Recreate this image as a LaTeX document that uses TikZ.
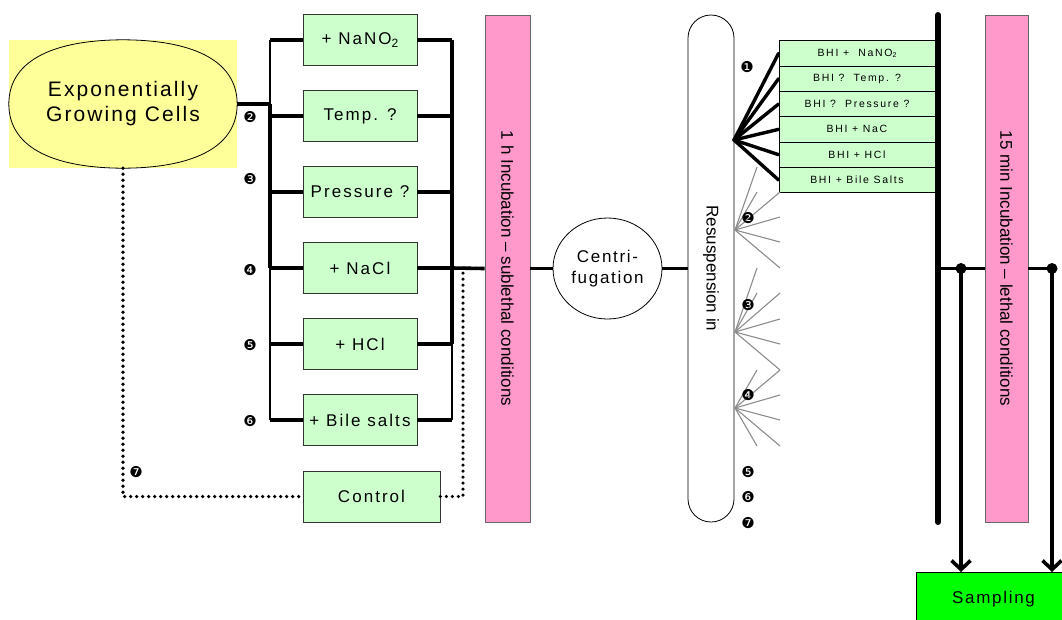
\documentclass[tikz,border=0pt]{standalone}
\usepackage{fontspec}
\setmainfont{Liberation Sans}
\newfontfamily\dingfont{DejaVu Sans}
\newfontfamily\spacedA[LetterSpace=10]{Liberation Sans}
\newfontfamily\spacedB[LetterSpace=12]{Liberation Sans}
\newfontfamily\spacedC[LetterSpace=16]{Liberation Sans}
\usetikzlibrary{shapes.geometric,arrows.meta}
\definecolor{yelbg}{HTML}{FFFF99}
\definecolor{grnL}{HTML}{CCFFCC}
\definecolor{pinkL}{HTML}{FF99CC}
\definecolor{sampG}{HTML}{00FF00}
\definecolor{gfanc}{HTML}{8C8C8C}
\tikzset{
  gbox/.style={draw=black!80, line width=0.8pt, fill=grnL, minimum width=114pt, minimum height=51pt, inner sep=0pt,
    font=\spacedB\fontsize{17}{20}\selectfont},
  bhibox/.style={draw=black, line width=0.8pt, fill=grnL, minimum width=156pt, minimum height=25.33pt, inner sep=0pt,
    font=\spacedC\fontsize{10.5}{12}\selectfont},
  pinkbox/.style={draw=black!60, line width=0.8pt, fill=pinkL, inner sep=0pt},
  vtext/.style={rotate=-90, font=\fontsize{17}{20}\selectfont, inner sep=0pt},
  wire/.style={line width=3.6pt},
  thinwire/.style={line width=2.7pt},
  dotline/.style={line width=3.6pt, line cap=round, dash pattern=on 0pt off 6pt},
  gfan/.style={draw=gfanc, line width=1.1pt},
  bfan/.style={line width=3.4pt},
  num/.style={font=\dingfont\fontsize{15}{15}\selectfont, inner sep=0pt},
  arr/.style={line width=3.6pt, -{Straight Barb[length=9pt,width=19pt,line width=3.6pt]}},
}
\begin{document}
\begin{tikzpicture}[x=1pt,y=-1pt]
\useasboundingbox (0,0) rectangle (1062,619);
\clip (0,0) rectangle (1062,619);

% --- source cells ---
\fill[yelbg] (9,40) rectangle (237,168);
\node[ellipse, minimum width=228pt, minimum height=128pt, inner sep=0pt,
      align=center, font=\spacedA\fontsize{21}{25}\selectfont] (blob) at (123,104)
      {Exponentially\\Growing Cells};
\draw[line width=0.8pt] (blob.west) .. controls (9,58) and (58,40) .. (blob.north)
   .. controls (188,40) and (237,58) .. (blob.east)
   .. controls (237,150) and (188,168) .. (blob.south)
   .. controls (58,168) and (9,150) .. (blob.west) -- cycle;

% --- stress boxes ---
\node[gbox] (nano) at (360,40)  {+ NaNO\raisebox{-0.35ex}{\fontsize{12}{12}\selectfont 2}};
\node[gbox] (temp) at (360,116) {Temp. ?};
\node[gbox] (pres) at (360,192) {Pressure ?};
\node[gbox] (nacl) at (360,268) {+ NaCl};
\node[gbox] (hcl)  at (360,344) {+ HCl};
\node[gbox] (bile) at (360,420) {+ Bile salts};
\node[gbox, minimum width=137pt] (ctrl) at (371.5,496.5) {Control};

% bus coordinates
\coordinate (LB1) at (270,40);
\coordinate (LBb) at (270,104);
\coordinate (LB4) at (270,268);
\coordinate (LB6) at (270,420);
\coordinate (RB1) at (452,40);
\coordinate (RB4) at (452,268);
\coordinate (RB5) at (452,344);
\coordinate (RB6) at (452,420);

% left bus
\draw[thinwire] (LB1) -- (LBb);
\draw[wire] (LBb) -- (LB4);
\draw[thinwire] (LB4) -- (LB6);
\draw[wire] (blob.east) -- (LBb);
% right bus
\draw[wire] (RB1) -- (RB5);
\draw[thinwire] (RB5) -- (RB6);
% branches
\foreach \b in {nano,temp,pres,nacl,hcl,bile}{
  \draw[wire] (LB1 |- \b.west) -- (\b.west);
  \draw[wire] (\b.east) -- (RB1 |- \b.east);
}

% numbers left
\node[num] (n2) at (250,117) {❷};
\node[num] (n3) at (250,179) {❸};
\node[num] (n4) at (250,270) {❹};
\node[num] (n5) at (250,345) {❺};
\node[num] (n6) at (250,421) {❻};
\node[num] (n7) at (136,472) {❼};

% --- 1 h incubation ---
\node[pinkbox, minimum width=45pt, minimum height=507pt] (p1) at (507.5,268.5) {};
\node[vtext] (p1t) at (p1.center) {1 h Incubation -- sublethal conditions};
\draw[wire] (RB4) -- (p1.west);

% control dotted path
\coordinate (dcB) at (463,496.5);
\coordinate (dcT) at (463,268);
\draw[dotline] (blob.south) -- (blob.south |- ctrl.west) -- (ctrl.west);
\draw[dotline] (ctrl.east) -- (dcB) -- (dcT) -- (p1.west);

% --- centrifugation ---
\node[draw=black, line width=0.8pt, ellipse, minimum width=109pt, minimum height=101pt, inner sep=0pt,
      align=center, font=\spacedA\fontsize{17}{21}\selectfont] (cent) at (607.5,268.5) {Centri-\\fugation};
\draw[wire] (p1.east) -- (cent.west);

% --- resuspension ---
\node[draw=black, line width=0.8pt, rounded corners=23pt, minimum width=46pt, minimum height=507pt, inner sep=0pt] (res) at (711,268.5) {};
\node[vtext] (rest) at (res.center) {Resuspension in};
\draw[wire] (cent.east) -- (res.west);

% --- BHI boxes ---
\node[bhibox] (b1) at (857,53.33)  {BHI +\ \ NaNO\raisebox{-0.35ex}{\fontsize{7}{7}\selectfont 2}};
\node[bhibox] (b2) at (857,78.67)  {BHI ?\ \ Temp. ?};
\node[bhibox] (b3) at (857,104)    {BHI ?\ \ Pressure ?};
\node[bhibox] (b4) at (857,129.33) {BHI + NaC};
\node[bhibox] (b5) at (857,154.67) {BHI + HCl};
\node[bhibox] (b6) at (857,180)    {BHI + Bile Salts};

% black fan
\coordinate (F1) at (734,140);
\foreach \b in {b1,b2,b3,b4,b5,b6}{ \draw[bfan, line cap=round] (F1) -- (\b.west); }

% gray fans
\coordinate (F2) at (735,230);
\coordinate (F3) at (735,332);
\coordinate (F4) at (735,408);
\foreach \p in {(757,167),(757,192),(780,192),(780,217),(780,242),(780,268)}{ \draw[gfan] (F2) -- \p; }
\foreach \p in {(757,268),(757,293),(780,293),(780,319),(780,344),(780,370)}{ \draw[gfan] (F3) -- \p; }
\foreach \p in {(757,370),(780,370),(780,395),(780,420),(780,446),(757,446)}{ \draw[gfan] (F4) -- \p; }

% numbers right
\node[num] (m1) at (747,67)  {❶};
\node[num] (m2) at (748,218) {❷};
\node[num] (m3) at (748,305) {❸};
\node[num] (m4) at (748,395) {❹};
\node[num] (m5) at (748,472) {❺};
\node[num] (m6) at (748,497) {❻};
\node[num] (m7) at (748,523) {❼};

% --- thick bar and lethal incubation ---
\coordinate (barT) at (938,15);
\coordinate (barB) at (938,522);
\coordinate (barM) at (938,268);
\draw[line width=6pt, line cap=round] (barT) -- (barB);
\node[pinkbox, minimum width=43pt, minimum height=507pt] (p2) at (1006.5,268.5) {};
\node[vtext] (p2t) at (p2.center) {15 min Incubation -- lethal conditions};

\node[draw=black, line width=1pt, fill=sampG, minimum width=154pt, minimum height=54pt, inner sep=0pt,
      anchor=north west, font=\spacedA\fontsize{17}{20}\selectfont] (samp) at (916,572) {\raisebox{5pt}{Sampling}};

\coordinate (D1) at (961,268.5);
\coordinate (D2) at (1052,268.5);
\draw[wire] (barM |- p2.west) -- (p2.west);
\draw[wire] (p2.east) -- (D2);
\fill (D1) circle (5.5pt);
\fill (D2) circle (5.5pt);
\draw[arr] (D1) -- (D1 |- samp.north);
\draw[arr] (D2) -- (D2 |- samp.north);
\end{tikzpicture}
\end{document}
